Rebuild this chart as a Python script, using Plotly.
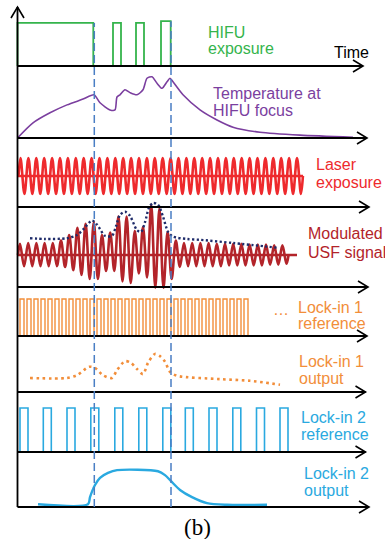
import plotly.graph_objects as go

W, H = 385, 539

# ---------------- data (time in a.u., levels normalised per panel) ----------------
# HIFU exposure: pulse on/off times and levels
hifu_on = [0.0, 95.5, 118.5, 143.5]
hifu_off = [75.8, 103.5, 126.5, 153.2]
hifu_level = [0.73, 0.73, 0.73, 0.76]

# Events where HIFU switches off (dashed markers)
event_times = [76.8, 153.5]
event_pulse = [0, 3]

# Temperature at HIFU focus
temp_t = [0, 15.5, 32.5, 49.5, 65.5, 76.5, 82.5, 92.5, 97.5, 99.5, 102.5, 107.5, 112.5,
          119.5, 125.5, 129.5, 134.5, 139.5, 144.5, 149.5, 152.5, 155.5, 165.5, 182.5,
          199.5, 215.5, 242.5, 282.5, 335.5]
temp_v = [0.0, 0.21, 0.35, 0.46, 0.54, 0.60, 0.49, 0.39, 0.39, 0.57, 0.60, 0.67, 0.63,
          0.60, 0.67, 0.83, 0.85, 0.76, 0.69, 0.78, 0.83, 0.78, 0.60, 0.39,
          0.25, 0.15, 0.08, 0.04, 0.01]

# Laser exposure (constant-amplitude carrier)
laser_level = 0.45
laser_amp = 0.26
laser_first_peak = 3.0
laser_period = 7.9
laser_cycles = 36
laser_line_end = 285.5

# Modulated USF signal: per-cycle upper / lower excursions
usf_level = 0.40
usf_first_peak = 2.5
usf_period = 8.2
usf_upper = [.14, .15, .15, .15, .15, .18, .25, .34, .39, .41, .25, .28, .48, .48, .30, .35,
             .63, .58, .29, .18, .15, .15, .15, .15, .14, .14, .14, .14, .13, .13, .13, .12, .12]
usf_lower = [.14, .14, .14, .14, .14, .15, .19, .25, .30, .30, .20, .20, .33, .35, .23, .28,
             .41, .41, .30, .15, .14, .14, .14, .14, .14, .13, .13, .13, .13, .13, .12, .12, .11]
usf_line_end = 279.5
# USF envelope (dotted)
env_t = [12.5, 27.5, 49.5, 59.5, 66.5, 74.5, 79.5, 87.5, 94.5, 98.5, 102.5, 107.5, 112.5,
         119.5, 123.5, 127.5, 131.5, 135.5, 140.5, 145.5, 150.5, 155.5, 169.5, 182.5,
         215.5, 260.5]
env_v = [0.61, 0.60, 0.61, 0.65, 0.73, 0.83, 0.78, 0.64, 0.64, 0.76, 0.90, 0.94, 0.89,
         0.71, 0.69, 0.81, 0.99, 1.05, 1.03, 0.88, 0.69, 0.63, 0.60, 0.59,
         0.55, 0.49]

# Lock-in 1 reference (fast clock)
li1_first = 2.5
li1_period = 7.0
li1_count = 33
li1_width = 4.0
li1_level = 0.755

# Lock-in 1 output (dotted)
li1_t = [12.5, 49.5, 59.5, 71.5, 77.5, 85.5, 94.5, 99.5, 107.5, 113.5, 119.5, 125.5,
         130.5, 137.5, 142.5, 147.5, 152.5, 159.5, 202.5, 232.5, 262.5]
li1_v = [0.25, 0.25, 0.30, 0.45, 0.43, 0.30, 0.25, 0.39, 0.55, 0.52, 0.41, 0.32,
         0.52, 0.68, 0.64, 0.54, 0.36, 0.29, 0.23, 0.20, 0.13]

# Lock-in 2 reference (slow clock)
li2_rise = [2.5, 25.8, 49.5, 73.3, 97.3, 121.3, 145.3, 167.8, 191.5, 215.3, 239.0, 262.5]
li2_width = 8.0
li2_level = 0.733

# Lock-in 2 output
li2o_t = [20.5, 70.5, 72.5, 77.5, 82.5, 90.5, 99.5, 140.5, 147.5, 153.5, 162.5, 174.5,
          189.5, 209.5, 249.5]
li2o_v = [0.05, 0.05, 0.18, 0.40, 0.53, 0.62, 0.67, 0.65, 0.58, 0.47, 0.31, 0.18,
          0.07, 0.04, 0.04]

# ---------------- layout helpers ----------------
panel_base = [66, 138, 207, 287, 336, 392, 452, 507]
panel_top = [7, 66, 138, 207, 287, 336, 392, 452]
axis_tip = [345.5, 349.5, 351.5, 350.5, 349.5, 348.0, 348.0, 351.5]
X_LEFT = -17.5
PAD = 14

GREEN = "#35b44c"
PURPLE = "#7b3f9f"
RED = "#ee2a2d"
DRED = "#b3242a"
NAVY = "#1f2c6a"
ORANGE = "#f28e3a"
BLUE = "#2aa9e0"
DASH = "#4a7ec4"


def yname(i):
    return "y" if i == 0 else f"y{i + 1}"


def lname(i):
    return "yaxis" if i == 0 else f"yaxis{i + 1}"


def px_to_paper(px):
    return (H - px) / H


def panel_paper(i, v):
    h = panel_base[i] - panel_top[i]
    return px_to_paper(panel_base[i] - v * h)


fig = go.Figure()
layout = dict(
    width=W, height=H, margin=dict(l=0, r=0, t=0, b=0),
    paper_bgcolor="white", plot_bgcolor="rgba(0,0,0,0)", showlegend=False,
    xaxis=dict(domain=[0, 1], range=[X_LEFT, X_LEFT + W], visible=False, fixedrange=True),
)
for i in range(8):
    base, top = panel_base[i], panel_top[i]
    h = base - top
    pb = min(H, base + PAD)
    pt = max(0, top - PAD)
    layout[lname(i)] = dict(domain=[px_to_paper(pb), px_to_paper(pt)],
                            range=[(base - pb) / h, (base - pt) / h],
                            visible=False, fixedrange=True)


def add_line(i, x, y, color, width, dash=None, shape="linear", smoothing=None):
    line = dict(color=color, width=width, shape=shape)
    if dash:
        line["dash"] = dash
    if smoothing is not None:
        line["smoothing"] = smoothing
    fig.add_trace(go.Scatter(x=x, y=y, mode="lines", line=line, xaxis="x", yaxis=yname(i),
                             hoverinfo="skip"))


# Panel 1: HIFU pulses
hx, hy = [], []
for on, off, lv in zip(hifu_on, hifu_off, hifu_level):
    hx += [on, on, off, off]
    hy += [0, lv, lv, 0]
add_line(0, hx, hy, GREEN, 1.8)

# Panel 2: temperature
add_line(1, temp_t, temp_v, PURPLE, 1.6, shape="spline", smoothing=0.7)

# Panel 3: laser carrier
lx = [laser_first_peak - laser_period / 4]
ly = [laser_level]
for k in range(laser_cycles):
    p = laser_first_peak + k * laser_period
    lx += [p, p + laser_period / 2]
    ly += [laser_level + laser_amp, laser_level - laser_amp]
lx.append(lx[-1] + laser_period / 4)
ly.append(laser_level)
add_line(2, [0, laser_line_end], [laser_level, laser_level], RED, 2.6)
add_line(2, lx, ly, RED, 2.6, shape="spline", smoothing=1.0)

# Panel 4: modulated USF signal
ux = [usf_first_peak - usf_period / 4]
uy = [usf_level]
for k, (up, lo) in enumerate(zip(usf_upper, usf_lower)):
    p = usf_first_peak + k * usf_period
    ux += [p, p + usf_period / 2]
    uy += [usf_level + up, usf_level - lo]
ux.append(ux[-1] + usf_period / 4)
uy.append(usf_level)
add_line(3, [0, usf_line_end], [usf_level, usf_level], DRED, 2.6)
add_line(3, ux, uy, DRED, 2.6, shape="spline", smoothing=1.0)
add_line(3, env_t, env_v, NAVY, 2.4, dash="2.2px,2.4px", shape="spline", smoothing=0.8)

# Panel 5: lock-in 1 reference
rx, ry = [], []
for k in range(li1_count):
    r = li1_first + k * li1_period
    rx += [r, r, r + li1_width, r + li1_width]
    ry += [0, li1_level, li1_level, 0]
add_line(4, rx, ry, ORANGE, 1.4)

# Panel 6: lock-in 1 output
add_line(5, li1_t, li1_v, ORANGE, 2.6, dash="2.6px,3.6px", shape="spline", smoothing=0.8)

# Panel 7: lock-in 2 reference
bx, by = [], []
for r in li2_rise:
    bx += [r, r, r + li2_width, r + li2_width]
    by += [0, li2_level, li2_level, 0]
add_line(6, bx, by, BLUE, 1.6)

# Panel 8: lock-in 2 output
add_line(7, li2o_t, li2o_v, BLUE, 2.4, shape="spline", smoothing=0.8)

# ---------------- axes, arrows, dashed markers ----------------
shapes = []
# vertical axis
shapes.append(dict(type="line", xref="x", yref="paper", x0=0, x1=0,
                   y0=px_to_paper(panel_base[-1]), y1=px_to_paper(panel_top[0]),
                   line=dict(color="black", width=1.8)))
h0 = panel_base[0] - panel_top[0]
v_arm = (panel_base[0] - (panel_top[0] + 11)) / h0
shapes.append(dict(type="path", xref="x", yref="y",
                   path=f"M -6.5,{v_arm} L 0,1 L 6.5,{v_arm}",
                   line=dict(color="black", width=1.6)))
for i in range(8):
    h = panel_base[i] - panel_top[i]
    te = axis_tip[i]
    shapes.append(dict(type="line", xref="x", yref=yname(i), x0=0, x1=te, y0=0, y1=0,
                       line=dict(color="black", width=1.8)))
    dv = 6.0 / h
    shapes.append(dict(type="path", xref="x", yref=yname(i),
                       path=f"M {te - 10},{dv} L {te},0 L {te - 10},{-dv}",
                       line=dict(color="black", width=1.6)))
for et, pi in zip(event_times, event_pulse):
    shapes.append(dict(type="line", xref="x", yref="paper", x0=et, x1=et,
                       y0=px_to_paper(panel_base[-1]), y1=panel_paper(0, hifu_level[pi]),
                       line=dict(color=DASH, width=1.5, dash="8px,4px")))

# ---------------- labels ----------------
SANS = "Liberation Sans, Arial, sans-serif"
labels = [
    ("HIFU", 207, 32, GREEN), ("exposure", 207, 48, GREEN),
    ("Time", 333, 52, "black"),
    ("Temperature at", 212, 93, PURPLE), ("HIFU focus", 212, 110, PURPLE),
    ("Laser", 315, 164, RED), ("exposure", 315, 182, RED),
    ("Modulated", 307, 233, DRED), ("USF signal", 307, 252, DRED),
    ("…", 272, 309, ORANGE),
    ("Lock-in 1", 297, 307, ORANGE), ("reference", 297, 323, ORANGE),
    ("Lock-in 1", 298, 361, ORANGE), ("output", 298, 378, ORANGE),
    ("Lock-in 2", 300, 417, BLUE), ("reference", 300, 434, BLUE),
    ("Lock-in 2", 303, 473, BLUE), ("output", 303, 490, BLUE),
]
annotations = []
for text, xl, yc, col in labels:
    annotations.append(dict(text=text, xref="paper", yref="paper", x=(xl - 1) / W,
                            y=px_to_paper(yc), xanchor="left", yanchor="middle",
                            showarrow=False, font=dict(family=SANS, size=16, color=col)))
annotations.append(dict(text="(b)", xref="paper", yref="paper", x=198 / W, y=px_to_paper(527),
                        xanchor="center", yanchor="middle", showarrow=False,
                        font=dict(family="Liberation Serif, Times New Roman, serif", size=23,
                                  color="black")))

layout["shapes"] = shapes
layout["annotations"] = annotations
fig.update_layout(**layout)
fig.write_html("out.html")
